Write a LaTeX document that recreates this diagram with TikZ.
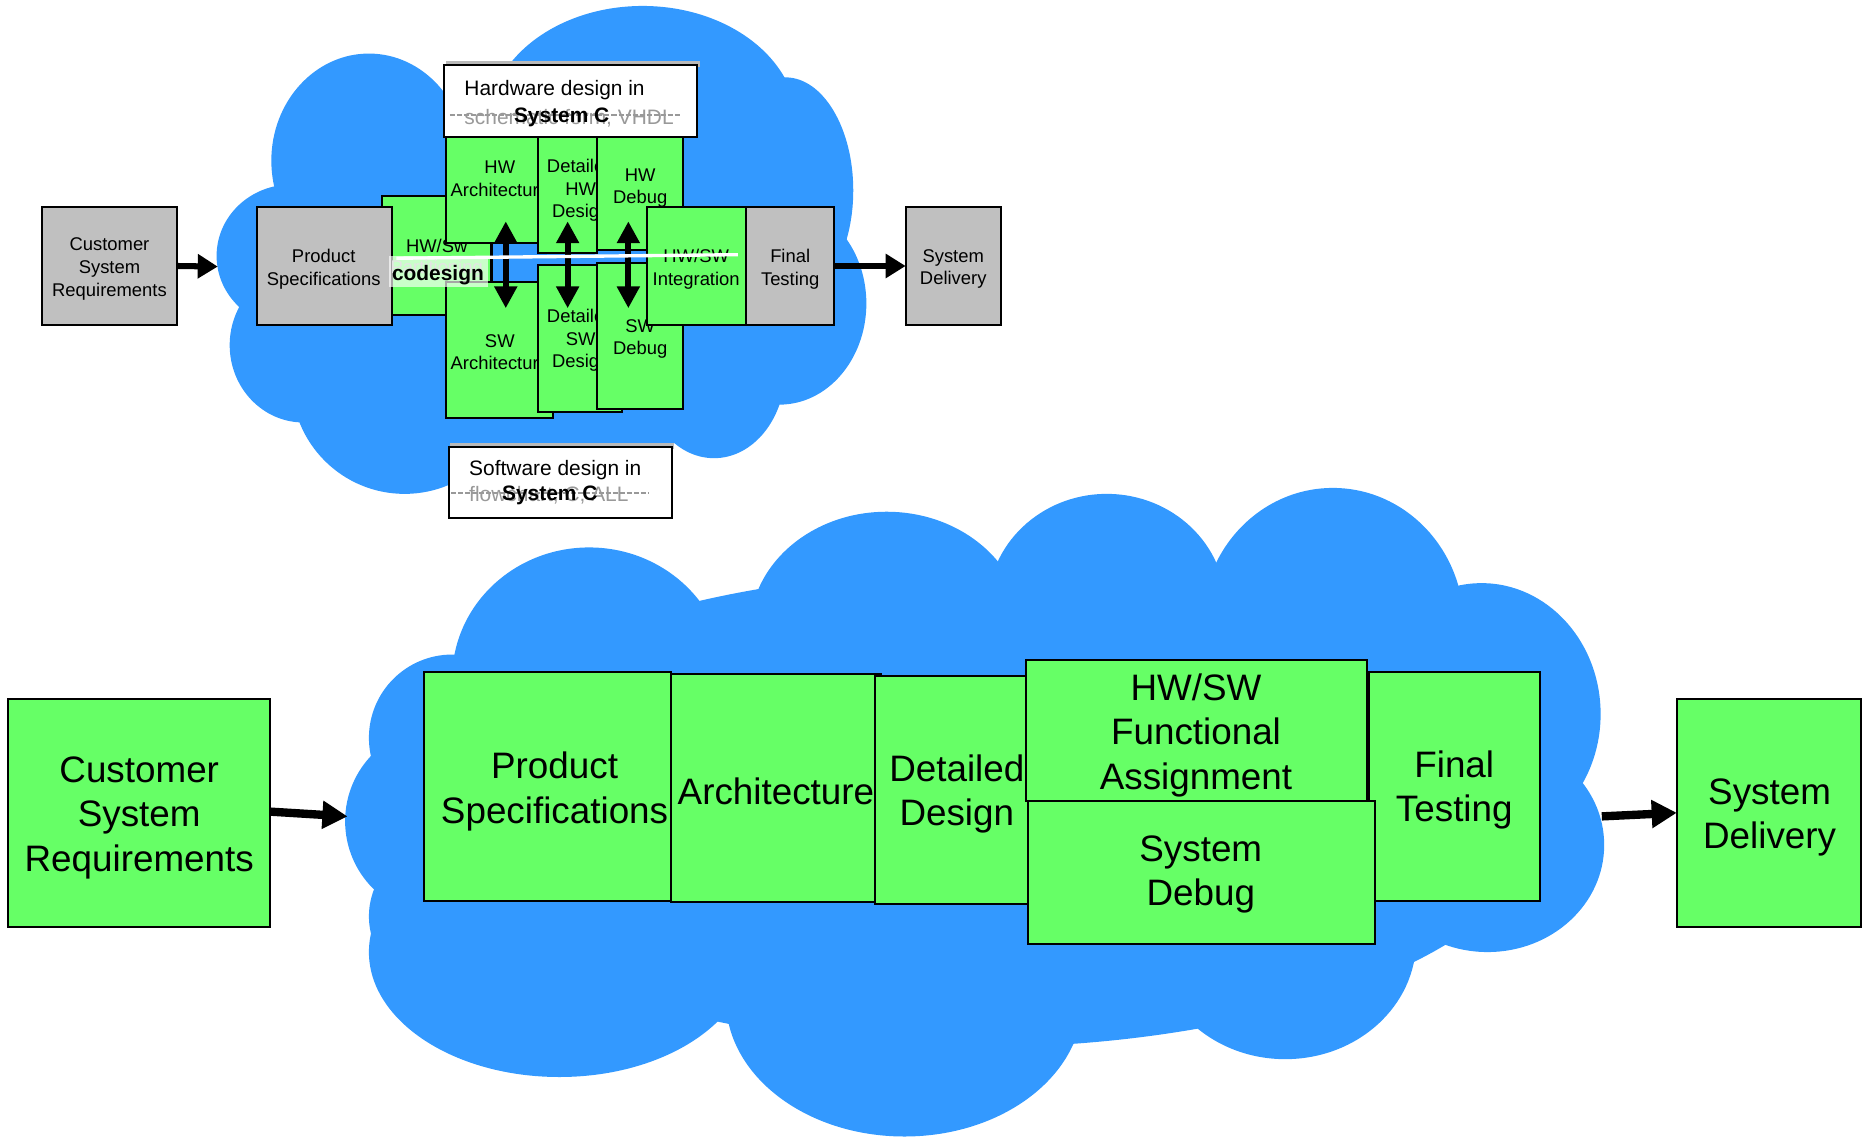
\documentclass[tikz,border=0pt]{standalone}
\usepackage{fontspec}
\setmainfont{Liberation Sans}
\usetikzlibrary{arrows.meta}
\definecolor{cloudblue}{RGB}{51,153,255}
\definecolor{boxgreen}{RGB}{102,255,102}
\definecolor{boxgray}{RGB}{192,192,192}
\definecolor{shadowgray}{RGB}{185,185,185}
\newcommand\bnode[7]{%
  \pgfmathsetmacro\bw{(#5-#3)*0.025}%
  \pgfmathsetmacro\bh{(#6-#4)*0.025}%
  \node[#1, minimum width=\bw cm, minimum height=\bh cm] (#2) at ({(#3+#5)/2},{(#4+#6)/2}) {#7};}
\tikzset{
  box/.style={draw=black, line width=1.2pt, inner sep=0pt, outer sep=0pt, align=center},
  gbox/.style={box, fill=boxgreen},
  ybox/.style={box, fill=boxgray},
  wbox/.style={box, fill=white},
  st/.style={font=\fontsize{11}{13.5}\selectfont, align=center, inner sep=0pt, yshift=-0.05cm},
  bt/.style={font=\fontsize{22}{26.6}\selectfont, align=center, inner sep=0pt, yshift=-0.075cm},
  mt/.style={font=\fontsize{12.5}{15}\selectfont, inner sep=0pt, yshift=-0.05cm},
  strike/.style={gray!80, dash pattern=on 3pt off 1.2pt, line width=1.2pt},
  flowsmall/.style={line width=3.6pt, -{Triangle[length=12pt,width=14pt]}},
  flowbig/.style={line width=5pt, -{Triangle[length=15pt,width=16pt]}},
  dbl/.style={line width=3.6pt, {Triangle[length=13pt,width=13pt]}-{Triangle[length=13pt,width=13pt]}},
}
\begin{document}
\begin{tikzpicture}[x=0.025cm,y=-0.025cm]
\useasboundingbox (0,0) rectangle (1568,956);
% ---------- top cloud ----------
\fill[cloudblue] (310,135) ellipse [x radius=82, y radius=90];
\fill[cloudblue] (540,105) ellipse [x radius=130, y radius=100];
\fill[cloudblue] (660,160) ellipse [x radius=57, y radius=95];
\fill[cloudblue] (655,255) ellipse [x radius=73, y radius=85];
\fill[cloudblue] (600,310) ellipse [x radius=60, y radius=75];
\fill[cloudblue] (340,320) ellipse [x radius=95, y radius=95];
\fill[cloudblue] (470,350) ellipse [x radius=100, y radius=85];
\fill[cloudblue] (245,215) ellipse [x radius=63, y radius=60];
\fill[cloudblue] (255,290) ellipse [x radius=62, y radius=65];
\fill[cloudblue] (450,230) ellipse [x radius=210, y radius=150];
% ---------- bottom cloud ----------
\fill[cloudblue] (495,570) ellipse [x radius=115, y radius=110];
\fill[cloudblue] (745,530) ellipse [x radius=115, y radius=100];
\fill[cloudblue] (930,510) ellipse [x radius=100, y radius=95];
\fill[cloudblue] (1120,525) ellipse [x radius=110, y radius=115];
\fill[cloudblue] (1245,600) ellipse [x radius=100, y radius=110];
\fill[cloudblue] (1250,710) ellipse [x radius=98, y radius=90];
\fill[cloudblue] (1080,790) ellipse [x radius=110, y radius=100];
\fill[cloudblue] (760,840) ellipse [x radius=150, y radius=115];
\fill[cloudblue] (470,800) ellipse [x radius=160, y radius=105];
\fill[cloudblue] (380,620) ellipse [x radius=70, y radius=70];
\fill[cloudblue] (370,690) ellipse [x radius=80, y radius=80];
\fill[cloudblue] (390,770) ellipse [x radius=80, y radius=70];
\fill[cloudblue] (820,680) ellipse [x radius=480, y radius=200];

% ---------- top flow ----------
\bnode{ybox}{tcsr}{35}{174}{149}{273}{}
\node[st] (tcsrT) at (92,224) {Customer\\System\\Requirements};
\bnode{gbox}{tpart}{321}{165}{413}{265}{}
\node[st] (tpartT) at (367,205) {HW/Sw};
\bnode{ybox}{tps}{216}{174}{329}{273}{}
\node[st] (tpsT) at (272,224) {Product\\Specifications};
\bnode{gbox}{thwa}{375}{115}{452}{204}{}
\node[st] (thwaT) at (420,148) {HW\\Architecture};
\bnode{gbox}{thwd}{452}{115}{502}{213}{}
\node[st] (thwdT) at (488,158) {Detailed\\HW\\Design};
\bnode{gbox}{thwg}{502}{115}{574}{210}{}
\node[st] (thwgT) at (538,156) {HW\\Debug};
\bnode{gbox}{tswa}{375}{237}{465}{351}{}
\node[st] (tswaT) at (420,294) {SW\\Architecture};
\bnode{gbox}{tswd}{452}{223}{523}{346}{}
\node[st] (tswdT) at (488,284) {Detailed\\SW\\Design};
\bnode{gbox}{tswg}{502}{221}{574}{344}{}
\node[st] (tswgT) at (538,283) {SW\\Debug};
\bnode{gbox}{tint}{544}{174}{627}{273}{}
\node[st] (tintT) at (585,224) {HW/SW\\Integration};
\bnode{ybox}{tft}{627}{174}{701}{273}{}
\node[st] (tftT) at (664,224) {Final\\Testing};
\bnode{ybox}{tsd}{761}{174}{841}{273}{}
\node[st] (tsdT) at (801,224) {System\\Delivery};

\coordinate (tin) at (183,224);
\draw[flowsmall] (tcsr.east) -- (tin);
\draw[flowsmall] (tft.east) -- (tsd.west);

\coordinate (a1t) at (425,186); \coordinate (a1b) at (425,259);
\coordinate (a2t) at (477,186); \coordinate (a2b) at (477,259);
\coordinate (a3t) at (528,186); \coordinate (a3b) at (528,259);
\draw[dbl] (a1t) -- (a1b);
\draw[dbl] (a2t) -- (a2b);
\draw[dbl] (a3t) -- (a3b);

\coordinate (wl1) at (333,217); \coordinate (wl2) at (620,214);
\draw[white, line width=2pt] (wl1) -- (wl2);

% codesign overlay
\node[st, text=gray!60] (partT) at (367,224) {Partitioning};
\fill[white, opacity=0.65] (327,215) rectangle (410,241);
\node[mt, font=\fontsize{12.5}{15}\selectfont\bfseries] (codes) at (368,229) {codesign};

% hardware design box
\fill[shadowgray] (375,51) rectangle (588,56);
\bnode{wbox}{hwbox}{373}{55}{586}{115}{}
\node[mt, anchor=west] (hwT) at (390,74) {Hardware design in};
\node[mt, anchor=west, text=gray!80] (hwold) at (390,97) {schematic form, VHDL};
\coordinate (hl1) at (378,97); \coordinate (hl2) at (572,97);
\draw[strike] (hl1) -- (hl2);
\node[mt, font=\fontsize{12.5}{15}\selectfont\bfseries] (hwnew) at (472,97) {System C};

% software design box
\fill[shadowgray] (378,372) rectangle (566,377);
\bnode{wbox}{swbox}{377}{376}{565}{435}{}
\node[mt, anchor=west] (swT) at (394,393) {Software design in};
\node[mt, anchor=west, text=gray!80] (swold) at (394,414) {flowchart, C, ALL};
\coordinate (sl1) at (379,414); \coordinate (sl2) at (545,414);
\draw[strike] (sl1) -- (sl2);
\node[mt, font=\fontsize{12.5}{15}\selectfont\bfseries] (swnew) at (462,414) {System C};

% ---------- bottom flow ----------
\bnode{gbox}{bcsr}{7}{587}{227}{779}{}
\node[bt] (bcsrT) at (117,684) {Customer\\System\\Requirements};
\bnode{gbox}{bps}{356}{565}{564}{757}{}
\node[bt] (bpsT) at (466,662) {Product\\Specifications};
\bnode{gbox}{barch}{564}{566}{740}{758}{}
\node[bt] (barchT) at (652,662) {Architecture};
\bnode{gbox}{bdd}{735}{568}{864}{760}{}
\node[bt] (bddT) at (804,664) {Detailed\\Design};
\bnode{gbox}{bft}{1150}{565}{1294}{757}{}
\node[bt] (bftT) at (1222,661) {Final\\Testing};
\bnode{gbox}{bsd}{864}{673}{1155}{793}{}
\node[bt] (bsdT) at (1009,732) {System\\Debug};
\bnode{gbox}{bhw}{862}{555}{1149}{673}{}
\node[bt] (bhwT) at (1005,615) {HW/SW\\Functional\\Assignment};
\bnode{gbox}{bdel}{1409}{587}{1564}{779}{}
\node[bt] (bdelT) at (1487,684) {System\\Delivery};

\coordinate (bin) at (292,686);
\coordinate (bout) at (1346,686);
\draw[flowbig] (bcsr.east) ++(0,-1) -- (bin);
\draw[flowbig] (bout) -- (bdel.west);
\end{tikzpicture}
\end{document}
